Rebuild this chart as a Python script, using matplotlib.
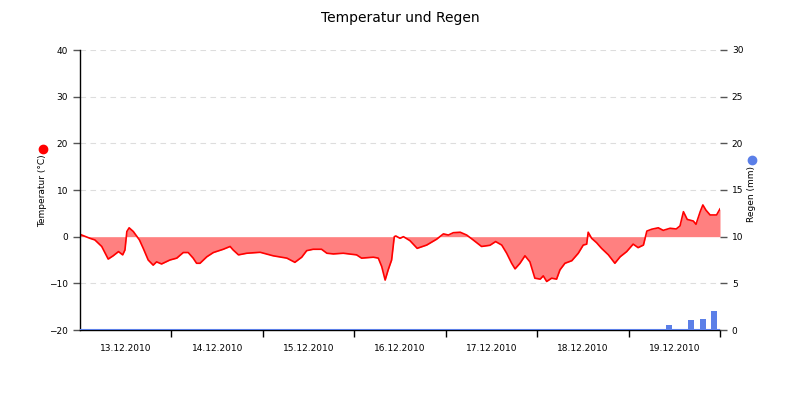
import matplotlib.pyplot as plt
import numpy as np

# Temperature (hours since 13.12.2010 00:00, degrees C)
hours = [0, 2.6, 3.9, 5.7, 7.4, 8.7, 10.1, 11.2, 11.8, 12.3, 12.9, 14.0, 15.6, 16.6,
         17.9, 19.2, 20.1, 21.4, 23.6, 25.4, 27.1, 28.4, 29.7, 30.6, 31.5, 33.3, 35.0,
         37.6, 39.4, 40.2, 41.6, 43.8, 47.3, 50.7, 54.3, 56.4, 58.2, 59.5, 61.2, 63.4,
         64.8, 66.5, 69.1, 72.6, 73.9, 77.0, 78.3, 79.2, 80.1, 80.9, 81.8, 82.5, 82.9,
         84.0, 84.9, 86.6, 88.5, 91.0, 93.6, 95.4, 96.7, 98.0, 99.8, 101.5, 103.2,
         105.4, 107.6, 109.1, 110.7, 112.0, 113.3, 114.2, 115.5, 116.8, 118.1, 119.4,
         120.8, 121.6, 122.5, 123.8, 125.1, 126.0, 127.3, 129.1, 130.8, 132.1, 133.0,
         133.4, 134.3, 135.6, 136.9, 138.7, 140.4, 141.8, 143.5, 145.2, 146.5, 147.9,
         148.8, 150.1, 151.8, 153.1, 154.9, 156.5, 157.5, 158.4, 159.4, 161.0, 161.7,
         162.8, 163.5, 164.3, 165.4, 167.1, 168.0]
temp = [0.5, -0.35, -0.7, -2.1, -4.8, -4.1, -3.2, -3.9, -2.85, 1.1, 1.9, 1.1, -0.7, -2.5,
        -5.0, -6.1, -5.4, -5.85, -5.0, -4.6, -3.4, -3.4, -4.6, -5.7, -5.7, -4.3, -3.4,
        -2.7, -2.1, -2.85, -3.9, -3.55, -3.35, -4.1, -4.6, -5.5, -4.4, -3.0, -2.7, -2.7,
        -3.55, -3.7, -3.55, -3.9, -4.6, -4.4, -4.6, -6.4, -9.3, -7.1, -5.0, 0.0, 0.15,
        -0.35, 0.0, -0.85, -2.5, -1.8, -0.55, 0.6, 0.35, 0.85, 0.95, 0.35, -0.7,
        -2.1, -1.85, -1.05, -1.8, -3.55, -5.7, -6.9, -5.7, -4.1, -5.4, -8.9,
        -9.1, -8.4, -9.6, -8.9, -9.1, -7.1, -5.7, -5.15, -3.55, -1.8, -1.6,
        0.95, -0.35, -1.3, -2.5, -3.9, -5.7, -4.3, -3.2, -1.6, -2.35, -1.8,
        1.2, 1.6, 1.9, 1.35, 1.8, 1.65, 2.3, 5.35, 3.7, 3.35, 2.65,
        5.35, 6.8, 5.7, 4.65, 4.65, 5.95]

# Rain (3-hour sums, mm)
rain_hours = [154.5, 160.5, 163.5, 166.5]
rain_mm = [0.5, 1.1, 1.2, 2.0]

day_labels = ['13.12.2010', '14.12.2010', '15.12.2010', '16.12.2010',
              '17.12.2010', '18.12.2010', '19.12.2010']

fig = plt.figure(figsize=(8, 4), dpi=100)
ax = fig.add_axes([0.1, 0.175, 0.8, 0.7])
ax2 = ax.twinx()

ax.fill_between(hours, temp, 0, color='#ff8080', lw=0)
ax.plot(hours, temp, color='red', lw=1.2)

ax2.bar(rain_hours, rain_mm, width=1.6, color='#5b7fe8')
ax2.axhline(0, color='#5b7fe8', lw=1.5)

ax.set_xlim(0, 168)
ax.set_ylim(-20, 40)
ax2.set_ylim(0, 30)
ax.set_yticks(np.arange(-20, 41, 10))
ax2.set_yticks(np.arange(0, 31, 5))

for y in [-10, 10, 20, 30, 40]:
    ax.axhline(y, color='#dddddd', lw=0.8, dashes=(5, 4), zorder=0)

ax.set_xticks(np.arange(24, 169, 24))
ax.set_xticklabels([])
ax.set_xticks(np.arange(12, 168, 24), minor=True)
ax.set_xticklabels(day_labels, minor=True)
ax.tick_params(axis='x', which='major', length=5, width=1, color='black')
ax.tick_params(axis='x', which='minor', length=0, pad=10, labelsize=6.5)
ax.tick_params(axis='y', length=5, width=1, color='#555555', labelsize=6.5)
ax2.tick_params(axis='y', length=5, width=1, color='#555555', labelsize=6.5)

for a in (ax, ax2):
    a.spines['top'].set_visible(False)
    a.spines['right'].set_visible(False)
ax2.spines['left'].set_visible(False)
ax2.spines['bottom'].set_visible(False)
ax.spines['left'].set_linewidth(1)
ax.spines['bottom'].set_linewidth(1)

ax.text(-0.058, 0.496, 'Temperatur (°C)', transform=ax.transAxes, rotation=90,
        ha='center', va='center', fontsize=6.5)
ax.plot([-0.058], [0.646], 'o', color='red', ms=6, transform=ax.transAxes, clip_on=False)
ax.text(1.05, 0.485, 'Regen (mm)', transform=ax.transAxes, rotation=90,
        ha='center', va='center', fontsize=6.5)
ax.plot([1.05], [0.607], 'o', color='#5b7fe8', ms=6, transform=ax.transAxes, clip_on=False)

fig.text(0.5, 0.955, 'Temperatur und Regen', ha='center', va='center', fontsize=10)

fig.savefig('out.png', dpi=100)
